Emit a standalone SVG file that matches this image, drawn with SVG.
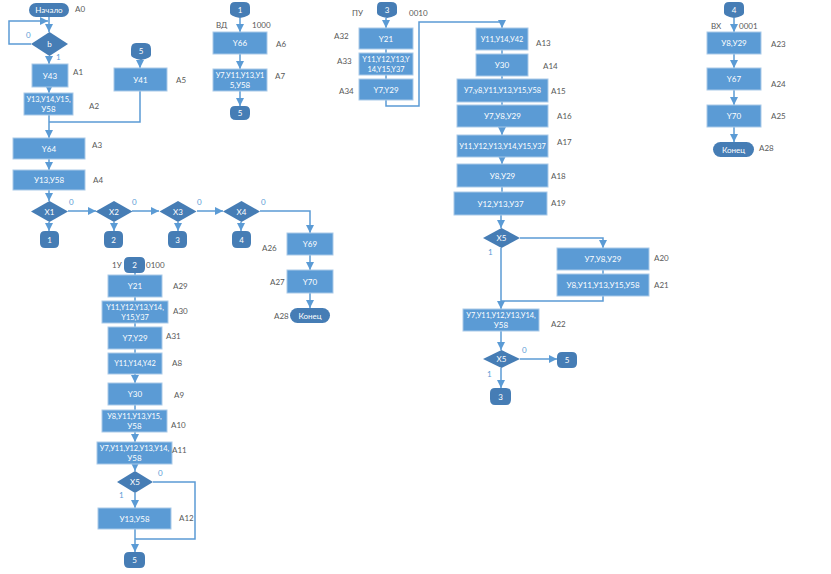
<svg xmlns="http://www.w3.org/2000/svg" width="831" height="574" viewBox="0 0 831 574">
<defs>
<style>
.box{fill:#5b9bd5;stroke:#a9c9e8;stroke-width:1}
.dk{fill:#467db5}
.t{font-family:Lato,"Liberation Sans",sans-serif;font-size:8px;fill:#fff;text-anchor:middle;dominant-baseline:central}
.s{font-size:7.4px}
.l{font-family:Lato,"Liberation Sans",sans-serif;font-size:8px;fill:#595959;dominant-baseline:central}
.b{font-family:Lato,"Liberation Sans",sans-serif;font-size:8px;fill:#5b9bd5;dominant-baseline:central}
.ln{stroke:#5b9bd5;stroke-width:1.5;fill:none}
</style>
<marker id="a" viewBox="0 0 10 10" refX="10" refY="5" markerWidth="8" markerHeight="8" markerUnits="userSpaceOnUse" orient="auto"><path d="M0,0 L10,5 L0,10 z" fill="#5b9bd5"/></marker>
</defs>
<rect width="831" height="574" fill="#fff"/>

<g id="connectors">
<path class="ln" d="M49,17 V32" marker-end="url(#a)"/>
<path class="ln" d="M31,44 H9 V21 H48" marker-end="url(#a)"/>
<path class="ln" d="M49,56 V64" marker-end="url(#a)"/>
<path class="ln" d="M49,87 V93" marker-end="url(#a)"/>
<path class="ln" d="M49,115 V138" marker-end="url(#a)"/>
<path class="ln" d="M140,60 V68" marker-end="url(#a)"/>
<path class="ln" d="M140,91 V122 H49"/>
<path class="ln" d="M49,159 V170" marker-end="url(#a)"/>
<path class="ln" d="M49,190 V201" marker-end="url(#a)"/>
<path class="ln" d="M68,211 H96" marker-end="url(#a)"/>
<path class="ln" d="M132,211 H159" marker-end="url(#a)"/>
<path class="ln" d="M197,211 H223" marker-end="url(#a)"/>
<path class="ln" d="M260,211 H310 V233" marker-end="url(#a)"/>
<path class="ln" d="M49,222 V231" marker-end="url(#a)"/>
<path class="ln" d="M114,222 V231" marker-end="url(#a)"/>
<path class="ln" d="M178,222 V231" marker-end="url(#a)"/>
<path class="ln" d="M241,222 V231" marker-end="url(#a)"/>
<path class="ln" d="M310,255 V270" marker-end="url(#a)"/>
<path class="ln" d="M310,293 V308" marker-end="url(#a)"/>

<path class="ln" d="M240,18 V32" marker-end="url(#a)"/>
<path class="ln" d="M240,54 V69" marker-end="url(#a)"/>
<path class="ln" d="M240,91 V106" marker-end="url(#a)"/>

<path class="ln" d="M386,18 V28" marker-end="url(#a)"/>
<path class="ln" d="M386,49 V53"/>
<path class="ln" d="M386,75 V79"/>
<path class="ln" d="M386,100 V106 H419 V22 H502 V28" marker-end="url(#a)"/>
<path class="ln" d="M502,50 V54"/>
<path class="ln" d="M502,76 V79"/>
<path class="ln" d="M502,102 V105"/>
<path class="ln" d="M502,127 V135" marker-end="url(#a)"/>
<path class="ln" d="M502,157 V164" marker-end="url(#a)"/>
<path class="ln" d="M502,187 V192"/>
<path class="ln" d="M501,215 V228" marker-end="url(#a)"/>
<path class="ln" d="M520,238 H603 V248" marker-end="url(#a)"/>
<path class="ln" d="M603,270 V274"/>
<path class="ln" d="M603,296 V301 H501"/>
<path class="ln" d="M501,248 V309" marker-end="url(#a)"/>
<path class="ln" d="M501,331 V350" marker-end="url(#a)"/>
<path class="ln" d="M520,359 H557" marker-end="url(#a)"/>
<path class="ln" d="M501,368 V388" marker-end="url(#a)"/>

<path class="ln" d="M734,18 V32" marker-end="url(#a)"/>
<path class="ln" d="M734,54 V68" marker-end="url(#a)"/>
<path class="ln" d="M734,90 V105" marker-end="url(#a)"/>
<path class="ln" d="M734,127 V142" marker-end="url(#a)"/>

<path class="ln" d="M135,273 V275"/>
<path class="ln" d="M135,297 V301"/>
<path class="ln" d="M135,323 V327"/>
<path class="ln" d="M135,349 V353"/>
<path class="ln" d="M135,374 V383" marker-end="url(#a)"/>
<path class="ln" d="M135,405 V410"/>
<path class="ln" d="M135,432 V442" marker-end="url(#a)"/>
<path class="ln" d="M135,464 V471" marker-end="url(#a)"/>
<path class="ln" d="M135,493 V508" marker-end="url(#a)"/>
<path class="ln" d="M153,482 H195 V539 H135"/>
<path class="ln" d="M135,529 V552" marker-end="url(#a)"/>
</g>

<!-- left column -->
<g id="A0"><rect class="dk" x="29" y="3" width="40" height="14" rx="7"/><text class="t" x="49" y="10">Начало</text><text class="l" x="75" y="9">A0</text></g>
<g id="b"><polygon class="dk" points="49.5,32 68,44 49.5,56 31,44"/><text class="t" x="49.5" y="44">b</text><text class="b" x="26" y="35">0</text><text class="b" x="56" y="57">1</text></g>
<g id="A1"><rect class="box" x="32" y="64" width="36" height="23"/><text class="t" x="50" y="75.5">У43</text><text class="l" x="73" y="72">A1</text></g>
<g id="A2"><rect class="box" x="24" y="93" width="49" height="22"/><text class="t s" x="48.5" y="99.5">У13,У14,У15,</text><text class="t" x="48.5" y="109">У58</text><text class="l" x="89" y="106">A2</text></g>
<g id="c5a"><path class="dk" d="M136,43 H145 Q151,43 151,49 V55 Q151,58 141,60 Q131,58 131,55 V49 Q131,43 136,43 Z"/><text class="t" x="141" y="51">5</text></g>
<g id="A5"><rect class="box" x="114" y="68" width="53" height="23"/><text class="t" x="140.5" y="79.5">У41</text><text class="l" x="176" y="80">A5</text></g>
<g id="A3"><rect class="box" x="13" y="138" width="72" height="21"/><text class="t" x="49" y="148.5">Y64</text><text class="l" x="92" y="145">A3</text></g>
<g id="A4"><rect class="box" x="13" y="170" width="72" height="20"/><text class="t" x="49" y="180">У13,У58</text><text class="l" x="93" y="180">A4</text></g>
<g id="X1"><polygon class="dk" points="49.5,201 68,211.5 49.5,222 31,211.5"/><text class="t" x="49.5" y="211.5">X1</text><text class="b" x="69" y="202">0</text></g>
<g id="X2"><polygon class="dk" points="114,201 132.5,211.5 114,222 95.5,211.5"/><text class="t" x="114" y="211.5">X2</text><text class="b" x="132" y="202">0</text></g>
<g id="X3"><polygon class="dk" points="178,201 196.5,211.5 178,222 159.5,211.5"/><text class="t" x="178" y="211.5">X3</text><text class="b" x="197" y="202">0</text></g>
<g id="X4"><polygon class="dk" points="241.5,201 260,211.5 241.5,222 223,211.5"/><text class="t" x="241.5" y="211.5">X4</text><text class="b" x="261" y="202">0</text></g>
<g id="c1a"><path class="dk" d="M45,231 H54 Q59,231 59,236 V243 Q59,248 54,248 H45 Q40,248 40,243 V236 Q40,231 45,231 Z"/><text class="t" x="49.5" y="239.5">1</text></g>
<g id="c2a"><path class="dk" d="M109,231 H118 Q123,231 123,236 V243 Q123,248 118,248 H109 Q104,248 104,243 V236 Q104,231 109,231 Z"/><text class="t" x="113.5" y="239.5">2</text></g>
<g id="c3a"><path class="dk" d="M173,231 H182 Q187,231 187,236 V243 Q187,248 182,248 H173 Q168,248 168,243 V236 Q168,231 173,231 Z"/><text class="t" x="177.5" y="239.5">3</text></g>
<g id="c4a"><path class="dk" d="M237,231 H246 Q251,231 251,236 V243 Q251,248 246,248 H237 Q232,248 232,243 V236 Q232,231 237,231 Z"/><text class="t" x="241.5" y="239.5">4</text></g>
<g id="A26"><rect class="box" x="287" y="233" width="46" height="22"/><text class="t" x="310" y="244">Y69</text><text class="l" x="262" y="248">A26</text></g>
<g id="A27"><rect class="box" x="287" y="270" width="46" height="23"/><text class="t" x="310" y="281.5">Y70</text><text class="l" x="270" y="282">A27</text></g>
<g id="A28a"><rect class="dk" x="290" y="308" width="40" height="15" rx="7.5"/><text class="t" x="310" y="315.5">Конец</text><text class="l" x="274" y="316">A28</text></g>

<!-- ВД column -->
<g id="c1b"><path class="dk" d="M235,2 H244 Q250,2 250,7 V13 Q250,16 240,18 Q230,16 230,13 V7 Q230,2 235,2 Z"/><text class="t" x="240" y="9.5">1</text><text class="l" x="216" y="25">ВД</text><text class="l" x="252" y="25">1000</text></g>
<g id="A6"><rect class="box" x="213" y="32" width="54" height="22"/><text class="t" x="240" y="43">Y66</text><text class="l" x="276" y="44">A6</text></g>
<g id="A7"><rect class="box" x="213" y="69" width="54" height="22"/><text class="t s" x="240" y="75.5">У7,У11,У13,У1</text><text class="t" x="240" y="85">5,У58</text><text class="l" x="275" y="76">A7</text></g>
<g id="c5b"><path class="dk" d="M235,106 H245 Q250,106 250,111 V114 Q250,120 244,120 H236 Q230,120 230,114 V111 Q230,106 235,106 Z"/><text class="t" x="240" y="113">5</text></g>

<!-- ПУ column -->
<g id="c3b"><path class="dk" d="M381,2 H391 Q397,2 397,7 V13 Q397,16 387,18 Q377,16 377,13 V7 Q377,2 381,2 Z"/><text class="t" x="387" y="9.5">3</text><text class="l" x="352" y="13">ПУ</text><text class="l" x="409" y="13">0010</text></g>
<g id="A32"><rect class="box" x="359" y="28" width="54" height="21"/><text class="t" x="386" y="38.5">Y21</text><text class="l" x="334" y="36">A32</text></g>
<g id="A33"><rect class="box" x="359" y="53" width="54" height="22"/><text class="t s" x="386" y="59.5">Y11,Y12,Y13,Y</text><text class="t s" x="386" y="69">14,Y15,Y37</text><text class="l" x="337" y="61">A33</text></g>
<g id="A34"><rect class="box" x="359" y="79" width="54" height="21"/><text class="t" x="386" y="89.5">Y7,Y29</text><text class="l" x="339" y="91">A34</text></g>
<g id="A13"><rect class="box" x="476" y="28" width="52" height="22"/><text class="t s" x="502" y="39">У11,У14,У42</text><text class="l" x="536" y="43">A13</text></g>
<g id="A14"><rect class="box" x="476" y="54" width="52" height="22"/><text class="t" x="502" y="65">У30</text><text class="l" x="543" y="66">A14</text></g>
<g id="A15"><rect class="box" x="457" y="79" width="91" height="23"/><text class="t s" x="502.5" y="90.5">У7,у8,У11,У13,У15,У58</text><text class="l" x="551" y="91">A15</text></g>
<g id="A16"><rect class="box" x="457" y="105" width="91" height="22"/><text class="t" x="502.5" y="116">У7,У8,У29</text><text class="l" x="557" y="116">A16</text></g>
<g id="A17"><rect class="box" x="457" y="135" width="91" height="22"/><text class="t s" x="502.5" y="146">У11,У12,У13,У14,У15,У37</text><text class="l" x="557" y="142">A17</text></g>
<g id="A18"><rect class="box" x="457" y="164" width="91" height="23"/><text class="t" x="502.5" y="175.5">У8,У29</text><text class="l" x="551" y="176">A18</text></g>
<g id="A19"><rect class="box" x="454" y="192" width="93" height="23"/><text class="t" x="500.5" y="203.5">У12,У13,У37</text><text class="l" x="551" y="203">A19</text></g>
<g id="X5a"><polygon class="dk" points="501.5,228 520,238 501.5,248 483,238"/><text class="t" x="501.5" y="238">X5</text><text class="b" x="488" y="252">1</text></g>
<g id="A20"><rect class="box" x="557" y="248" width="92" height="22"/><text class="t" x="603" y="259">У7,У8,У29</text><text class="l" x="654" y="258">A20</text></g>
<g id="A21"><rect class="box" x="557" y="274" width="92" height="22"/><text class="t" x="603" y="285">У8,У11,У13,У15,У58</text><text class="l" x="654" y="285">A21</text></g>
<g id="A22"><rect class="box" x="463" y="309" width="76" height="22"/><text class="t s" x="501" y="315.5">У7,У11,У12,У13,У14,</text><text class="t" x="501" y="325">У58</text><text class="l" x="551" y="324">A22</text></g>
<g id="X5b"><polygon class="dk" points="501.5,350 520,359 501.5,368 483,359"/><text class="t" x="501.5" y="359">X5</text><text class="b" x="522" y="350">0</text><text class="b" x="487" y="374">1</text></g>
<g id="c5c"><path class="dk" d="M562,352 H572 Q577,352 577,357 V363 Q577,368 572,368 H562 Q557,368 557,363 V357 Q557,352 562,352 Z"/><text class="t" x="567" y="360">5</text></g>
<g id="c3c"><path class="dk" d="M495,388 H506 Q511,388 511,393 V399 Q511,405 506,405 H495 Q490,405 490,399 V393 Q490,388 495,388 Z"/><text class="t" x="500.5" y="396.5">3</text></g>

<!-- ВХ column -->
<g id="c4b"><path class="dk" d="M729,2 H739 Q744,2 744,7 V13 Q744,16 734,18 Q724,16 724,13 V7 Q724,2 729,2 Z"/><text class="t" x="734" y="9.5">4</text><text class="l" x="711" y="26">ВХ</text><text class="l" x="739" y="26">0001</text></g>
<g id="A23"><rect class="box" x="707" y="32" width="54" height="22"/><text class="t" x="734" y="43">У8,У29</text><text class="l" x="771" y="44">A23</text></g>
<g id="A24"><rect class="box" x="707" y="68" width="54" height="22"/><text class="t" x="734" y="79">Y67</text><text class="l" x="771" y="84">A24</text></g>
<g id="A25"><rect class="box" x="707" y="105" width="54" height="22"/><text class="t" x="734" y="116">Y70</text><text class="l" x="771" y="116">A25</text></g>
<g id="A28b"><rect class="dk" x="713" y="142" width="41" height="15" rx="7.5"/><text class="t" x="733.5" y="149.5">Конец</text><text class="l" x="759" y="148">A28</text></g>

<!-- 1У column -->
<g id="c2b"><path class="dk" d="M129,257 H140 Q145,257 145,262 V268 Q145,273 140,273 H129 Q124,273 124,268 V262 Q124,257 129,257 Z"/><text class="t" x="134.5" y="265">2</text><text class="l" x="112" y="265">1У</text><text class="l" x="146" y="265">0100</text></g>
<g id="A29"><rect class="box" x="108" y="275" width="54" height="22"/><text class="t" x="135" y="286">Y21</text><text class="l" x="173" y="286">A29</text></g>
<g id="A30"><rect class="box" x="102" y="301" width="66" height="22"/><text class="t s" x="135" y="307.5">Y11,Y12,Y13,Y14,</text><text class="t s" x="135" y="317">Y15,Y37</text><text class="l" x="173" y="311">A30</text></g>
<g id="A31"><rect class="box" x="108" y="327" width="54" height="22"/><text class="t" x="135" y="338">Y7,Y29</text><text class="l" x="166" y="336">A31</text></g>
<g id="A8"><rect class="box" x="108" y="353" width="54" height="21"/><text class="t s" x="135" y="363.5">Y11,Y14,Y42</text><text class="l" x="172" y="363">A8</text></g>
<g id="A9"><rect class="box" x="108" y="383" width="54" height="22"/><text class="t" x="135" y="394">Y30</text><text class="l" x="174" y="395">A9</text></g>
<g id="A10"><rect class="box" x="102" y="410" width="65" height="22"/><text class="t s" x="134.5" y="416.5">У8,У11,У13,У15,</text><text class="t" x="134.5" y="426">У58</text><text class="l" x="171" y="425">A10</text></g>
<g id="A11"><rect class="box" x="97" y="442" width="75" height="22"/><text class="t s" x="134.5" y="448.5">У7,У11,У12,У13,У14,</text><text class="t" x="134.5" y="458">У58</text><text class="l" x="172" y="450">A11</text></g>
<g id="X5c"><polygon class="dk" points="135,471 153,482 135,493 117,482"/><text class="t" x="135" y="482">X5</text><text class="b" x="158" y="473">0</text><text class="b" x="119" y="495">1</text></g>
<g id="A12"><rect class="box" x="98" y="508" width="73" height="21"/><text class="t" x="134.5" y="518.5">У13,У58</text><text class="l" x="179" y="518">A12</text></g>
<g id="c5d"><path class="dk" d="M129,552 H140 Q145,552 145,557 V563 Q145,568 140,568 H129 Q124,568 124,563 V557 Q124,552 129,552 Z"/><text class="t" x="134.5" y="560">5</text></g>
</svg>
